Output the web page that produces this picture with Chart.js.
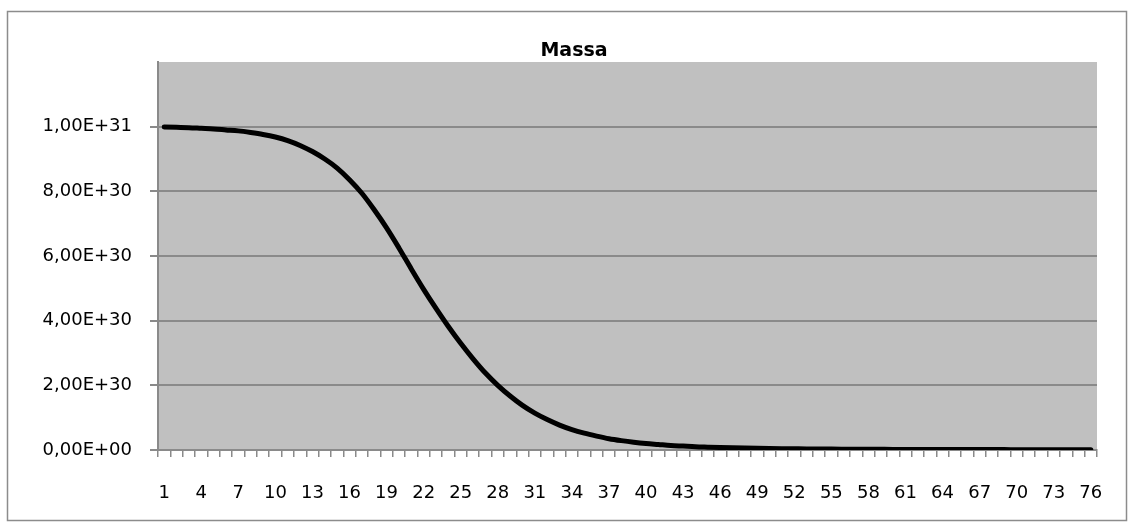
<!DOCTYPE html>
<html>
<head>
<meta charset="utf-8">
<script src="https://cdn.jsdelivr.net/npm/chart.js@4.4.1/dist/chart.umd.min.js"></script>
<style>
  html, body { margin: 0; padding: 0; background: #fff; }
  #wrap { width: 1133px; height: 526px; position: relative; }
</style>
</head>
<body>
<div id="wrap"><canvas id="massChart" width="1133" height="526"></canvas></div>
<script>
// categories (time steps)
var categories = ['1','2','3','4','5','6','7','8','9','10','11','12','13','14','15','16','17','18','19','20',
  '21','22','23','24','25','26','27','28','29','30','31','32','33','34','35','36','37','38','39','40',
  '41','42','43','44','45','46','47','48','49','50','51','52','53','54','55','56','57','58','59','60',
  '61','62','63','64','65','66','67','68','69','70','71','72','73','74','75','76'];

// mass values
var massValues = [
  9.99e30, 9.98e30, 9.97e30, 9.95e30, 9.93e30, 9.90e30, 9.87e30, 9.82e30, 9.76e30, 9.68e30,
  9.57e30, 9.42e30, 9.23e30, 9.00e30, 8.72e30, 8.36e30, 7.94e30, 7.43e30, 6.87e30, 6.25e30,
  5.60e30, 4.97e30, 4.38e30, 3.82e30, 3.30e30, 2.82e30, 2.38e30, 2.00e30, 1.67e30, 1.38e30,
  1.14e30, 0.94e30, 0.77e30, 0.63e30, 0.52e30, 0.43e30, 0.35e30, 0.29e30, 0.24e30, 0.20e30,
  0.17e30, 0.14e30, 0.12e30, 0.10e30, 0.088e30, 0.077e30, 0.068e30, 0.060e30, 0.053e30, 0.047e30,
  0.042e30, 0.038e30, 0.034e30, 0.031e30, 0.028e30, 0.026e30, 0.024e30, 0.022e30, 0.020e30, 0.019e30,
  0.018e30, 0.017e30, 0.016e30, 0.015e30, 0.014e30, 0.013e30, 0.013e30, 0.012e30, 0.012e30, 0.011e30,
  0.011e30, 0.010e30, 0.010e30, 0.010e30, 0.009e30, 0.009e30
];

// y axis ticks (top one is unlabelled)
var yTicks = [0, 2e30, 4e30, 6e30, 8e30, 1e31, 1.2e31];
var chartTitle = 'Massa';

function sciLabel(v) {
    if (v > 1.05e31) return '';
    var parts = v.toExponential(2).split('e');
    var exp = parseInt(parts[1], 10);
    var sign = exp < 0 ? '-' : '+';
    return parts[0].replace('.', ',') + 'E' + sign + String(Math.abs(exp)).padStart(2, '0');
}

var axisGray = '#8a8a8a';
var labelFont = { family: 'DejaVu Sans', size: 18 };

// gray plot area, outer frame and title
var excelLook = {
    id: 'excelLook',
    beforeDraw: function (chart) {
        var ctx = chart.ctx, a = chart.chartArea;
        ctx.save();
        ctx.fillStyle = '#c0c0c0';
        ctx.fillRect(a.left, a.top, a.right - a.left, a.bottom - a.top);
        ctx.strokeStyle = '#8c8c8c';
        ctx.lineWidth = 1.5;
        ctx.strokeRect(7.5, 11.5, 1119, 509);
        ctx.restore();
    },
    afterDraw: function (chart) {
        var ctx = chart.ctx;
        ctx.save();
        ctx.fillStyle = '#000';
        ctx.font = 'bold 19px "DejaVu Sans"';
        ctx.textAlign = 'center';
        ctx.textBaseline = 'alphabetic';
        ctx.fillText(chartTitle, 574, 56);
        ctx.restore();
    }
};

new Chart(document.getElementById('massChart'), {
    type: 'line',
    data: {
        labels: categories,
        datasets: [{
            label: 'Massa',
            data: massValues,
            borderColor: '#000',
            borderWidth: 5,
            borderCapStyle: 'round',
            borderJoinStyle: 'round',
            pointRadius: 0,
            cubicInterpolationMode: 'monotone',
            fill: false
        }]
    },
    options: {
        responsive: false,
        animation: false,
        layout: { padding: { top: 62, right: 36, left: 0, bottom: 0 } },
        plugins: {
            legend: { display: false },
            tooltip: { enabled: false },
            title: { display: false }
        },
        scales: {
            x: {
                offset: true,
                grid: {
                    offset: true,
                    drawOnChartArea: false,
                    drawTicks: true,
                    tickLength: 7,
                    color: axisGray,
                    lineWidth: 1.5
                },
                border: { color: axisGray, width: 2 },
                ticks: {
                    autoSkip: false,
                    maxRotation: 0,
                    color: '#000',
                    font: labelFont,
                    padding: 26,
                    callback: function (val, idx) { return idx % 3 === 0 ? categories[idx] : ''; }
                },
                afterFit: function (scale) { scale.height = 76; }
            },
            y: {
                min: 0,
                max: 1.2e31,
                afterBuildTicks: function (scale) {
                    scale.ticks = yTicks.map(function (v) { return { value: v }; });
                },
                grid: {
                    color: function (c) { return c.tick && c.tick.value > 1.05e31 ? 'rgba(0,0,0,0)' : axisGray; },
                    lineWidth: 2,
                    tickLength: 8
                },
                border: { color: axisGray, width: 2 },
                ticks: {
                    color: '#000',
                    font: labelFont,
                    padding: 18,
                    callback: function (v) { return sciLabel(v); }
                },
                afterFit: function (scale) { scale.width = 158; }
            }
        }
    },
    plugins: [excelLook]
});
</script>
</body>
</html>
